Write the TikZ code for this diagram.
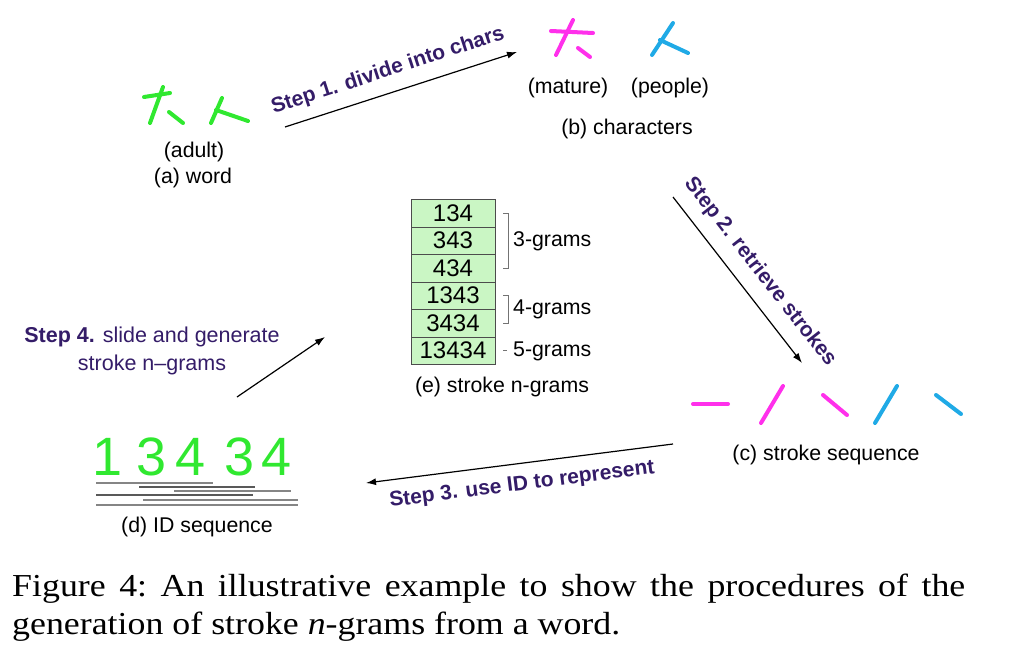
\documentclass[tikz,border=0pt]{standalone}
\usepackage{fontspec}
\setmainfont{Liberation Sans}
\newfontfamily\capfont{Liberation Serif}
\usetikzlibrary{arrows.meta,positioning}

\definecolor{wordgreen}{RGB}{48,232,48}
\definecolor{charpink}{RGB}{255,48,235}
\definecolor{charblue}{RGB}{32,170,230}
\definecolor{steppurple}{RGB}{52,28,104}
\definecolor{cellgreen}{RGB}{202,246,196}

\begin{document}
\begin{tikzpicture}[
  x=1pt, y=-1pt,
  font=\fontsize{21.3}{25}\selectfont,
  brush/.style={line width=4pt, line cap=round},
  arr/.style={-{Latex[length=10pt,width=7pt]}, line width=1.2pt},
  steplbl/.style={font=\fontsize{21}{28}\selectfont\bfseries, text=steppurple, inner sep=1pt},
  cell/.style={draw=black!70, fill=cellgreen, minimum width=84pt, minimum height=27.5pt,
               inner sep=0pt, outer sep=0pt, font=\fontsize{24}{26}\selectfont},
  lbl/.style={inner sep=1pt},
  brk/.style={draw=black!55, line width=0.9pt},
  idline/.style={draw=black!48, line width=1.3pt},
  captxt/.style={anchor=base west, inner sep=0pt, font=\capfont\fontsize{32}{38}\selectfont}
]
\useasboundingbox (0,0) rectangle (1009,653);

% (a) word
\draw[brush, wordgreen] (144,97) -- (170,93);
\draw[brush, wordgreen] (163,87) -- (150,123);
\draw[brush, wordgreen] (169,112) -- (183,123);
\draw[brush, wordgreen] (222,98) -- (211,123);
\draw[brush, wordgreen] (216,110) -- (248,121);
\node[lbl] (adult) at (194,152) {(adult)};
\node[lbl] (word) at (193,178) {(a) word};

% (b) characters
\draw[brush, charpink] (551,31) -- (593,33);
\draw[brush, charpink] (573,20) -- (556,55);
\draw[brush, charpink] (578,48) -- (590,57);
\draw[brush, charblue] (673,23) -- (652,55);
\draw[brush, charblue] (660,40) -- (688,53);
\node[lbl] (mature) at (568,88) {(mature)};
\node[lbl] (people) at (670,88) {(people)};
\node[lbl] (chars) at (627,129) {(b) characters};

% (c) stroke sequence
\draw[brush, charpink] (693,404) -- (728,404);
\draw[brush, charpink] (761,423) -- (783,386);
\draw[brush, charpink] (823,395) -- (847,415);
\draw[brush, charblue] (875,423) -- (897,386);
\draw[brush, charblue] (936,395) -- (961,414);
\node[lbl] (strseq) at (826,455) {(c) stroke sequence};

% (d) ID sequence
\foreach \d/\x in {1/108,3/152,4/191,3/240,4/277}
  \node[text=wordgreen, font=\fontsize{54}{54}\selectfont, inner sep=0pt] at (\x,457) {\d};
\draw[idline] (96,483) -- (213,483);
\draw[idline, draw=black!65] (139,487) -- (255,487);
\draw[idline] (174,491) -- (291,491);
\draw[idline, draw=black!65] (96,495) -- (253,495);
\draw[idline] (143,500) -- (298,500);
\draw[idline] (96,505) -- (298,505);
\node[lbl] (idseq) at (197,527) {(d) ID sequence};

% (e) stroke n-grams
\node[cell] (c1) at (453,213) {134};
\node[cell, below=0pt of c1] (c2) {343};
\node[cell, below=0pt of c2] (c3) {434};
\node[cell, below=0pt of c3] (c4) {1343};
\node[cell, below=0pt of c4] (c5) {3434};
\node[cell, below=0pt of c5] (c6) {13434};
\draw[brk] ([xshift=8pt]c1.east) -- ++(5,0) |- ([xshift=8pt]c3.east);
\draw[brk] ([xshift=8pt]c4.east) -- ++(5,0) |- ([xshift=8pt]c5.east);
\draw[brk] ([xshift=8pt]c6.east) -- ++(4,0);
\node[lbl, anchor=west] (g3) at (512,241) {3-grams};
\node[lbl, anchor=west] (g4) at (512,309) {4-grams};
\node[lbl, anchor=west] (g5) at (512,351) {5-grams};
\node[lbl] (ngrams) at (502,387) {(e) stroke n-grams};

% steps
\coordinate (s1a) at (285,127);
\coordinate (s1b) at (517,52);
\coordinate (s2a) at (673,197);
\coordinate (s2b) at (802,363);
\coordinate (s3a) at (673,444);
\coordinate (s3b) at (366,483);
\coordinate (s4a) at (237,397);
\coordinate (s4b) at (325,337);
\draw[arr] (s1a) -- (s1b);
\draw[arr] (s2a) -- (s2b);
\draw[arr] (s3a) -- (s3b);
\draw[arr] (s4a) -- (s4b);
\node[steplbl, rotate=18] (step1) at (388,71) {Step 1. divide into chars};
\node[steplbl, rotate=-52] (step2) at (760,272) {Step 2. retrieve strokes};
\node[steplbl, rotate=7.2] (step3) at (522,485) {Step 3. use ID to represent};
\node[steplbl, align=center, font=\fontsize{21.5}{28}\selectfont\bfseries] (step4) at (152,351)
  {Step 4. \mdseries slide and generate\\\mdseries stroke n--grams};

% caption
\node[captxt] (cap1) at (12,596)
  {\scalebox{1.12}[1]{\frenchspacing\makebox[851pt][s]{Figure 4: An illustrative example to show the procedures of the}}};
\node[captxt] (cap2) at (12,634)
  {\scalebox{1.12}[1]{generation of stroke \textit{n}-grams from a word.}};
\end{tikzpicture}
\end{document}
